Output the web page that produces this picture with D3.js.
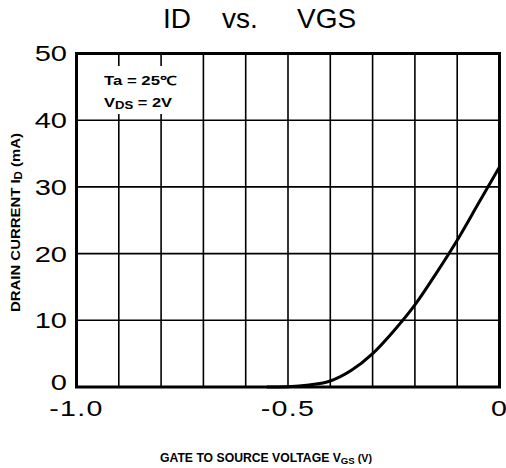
<!DOCTYPE html>
<html><head><meta charset="utf-8">
<script src="https://cdn.jsdelivr.net/npm/d3@7"></script>
<style>body{margin:0;background:#fff}svg{display:block}</style>
</head><body>
<svg id="c" width="506" height="468"></svg>
<script>
const vgs = [-0.55, -0.5, -0.45, -0.4, -0.35, -0.3, -0.25, -0.2, -0.15, -0.1, -0.05, 0];
const idmA = [0, 0.05, 0.3, 0.9, 2.5, 5.0, 8.4, 12.3, 17, 22, 27.5, 33];
const xGrid = [-1.0, -0.9, -0.8, -0.7, -0.6, -0.5, -0.4, -0.3, -0.2, -0.1, 0];
const xTickVals = [-1.0, -0.5, 0];
const xTickLabels = ["-1.0", "-0.5", "0"];
const yTickVals = [0, 10, 20, 30, 40, 50];
const yTickLabels = ["0", "10", "20", "30", "40", "50"];
const titleParts = ["ID", "vs.", "VGS"];

const svg = d3.select("#c");
const L = 76.5, R = 499.5, T = 53.5, B = 387;
const x = d3.scaleLinear().domain([-1, 0]).range([L, R]);
const y = d3.scaleLinear().domain([0, 50]).range([B, T]);
const font = "'Liberation Sans', Arial, sans-serif";

// grid
svg.append("g").selectAll("line").data(xGrid.slice(1, -1)).join("line")
  .attr("x1", d => x(d)).attr("x2", d => x(d)).attr("y1", T).attr("y2", B)
  .attr("stroke", "#000").attr("stroke-width", 1.6);
svg.append("g").selectAll("line").data(yTickVals.slice(1, -1)).join("line")
  .attr("x1", L).attr("x2", R).attr("y1", d => y(d)).attr("y2", d => y(d))
  .attr("stroke", "#000").attr("stroke-width", 1.6);

// annotation box (hides grid)
svg.append("rect").attr("x", 97).attr("y", 66).attr("width", 85).attr("height", 48).attr("fill", "#fff");
const ann = svg.append("g").attr("font-family", font).attr("font-weight", "bold").attr("font-size", 12.5);
ann.append("text").attr("x", 104).attr("y", 85).attr("textLength", 72).attr("lengthAdjust", "spacingAndGlyphs")
  .text("Ta = 25℃");
const t2 = ann.append("text").attr("x", 104).attr("y", 107).attr("textLength", 68).attr("lengthAdjust", "spacingAndGlyphs");
t2.append("tspan").text("V");
t2.append("tspan").attr("font-size", 10).attr("dy", 2).text("DS");
t2.append("tspan").attr("dy", -2).text(" = 2V");

// frame
svg.append("rect").attr("x", L).attr("y", T).attr("width", R - L).attr("height", B - T)
  .attr("fill", "none").attr("stroke", "#000").attr("stroke-width", 3);

// curve
const line = d3.line().x((d, i) => x(vgs[i])).y(d => y(d)).curve(d3.curveMonotoneX);
svg.append("path").attr("d", line(idmA)).attr("fill", "none").attr("stroke", "#000").attr("stroke-width", 3);

// y tick labels
svg.append("g").selectAll("g").data(yTickVals).join("g")
  .attr("transform", d => `translate(67,${y(d) - (d === 0 ? 5 : 0)}) scale(1.32,1)`)
  .append("text").attr("text-anchor", "end").attr("dy", "0.36em")
  .attr("font-family", font).attr("font-size", 22).text((d, i) => yTickLabels[i]);

// x tick labels
svg.append("g").selectAll("g").data(xTickVals).join("g")
  .attr("transform", d => `translate(${x(d)},416) scale(1.3,1)`)
  .append("text").attr("text-anchor", "middle")
  .attr("font-family", font).attr("font-size", 22).attr("letter-spacing", 1).text((d, i) => xTickLabels[i]);

// title
const titleX = [163, 222, 297];
svg.append("g").selectAll("text").data(titleParts).join("text")
  .attr("x", (d, i) => titleX[i]).attr("y", 28)
  .attr("font-family", font).attr("font-size", 28).text(d => d);

// x axis title
const xt = svg.append("text").attr("x", 160).attr("y", 462)
  .attr("font-family", font).attr("font-weight", "bold").attr("font-size", 12)
  .attr("textLength", 212).attr("lengthAdjust", "spacingAndGlyphs");
xt.append("tspan").text("GATE TO SOURCE VOLTAGE V");
xt.append("tspan").attr("font-size", 9.5).attr("dy", 2).text("GS");
xt.append("tspan").attr("dy", -2).attr("font-size", 10.5).text(" (V)");

// y axis title
const yt = svg.append("text").attr("transform", "translate(20,312) rotate(-90)")
  .attr("font-family", font).attr("font-weight", "bold").attr("font-size", 13)
  .attr("textLength", 179).attr("lengthAdjust", "spacingAndGlyphs");
yt.append("tspan").text("DRAIN CURRENT I");
yt.append("tspan").attr("font-size", 10).attr("dy", 2).text("D");
yt.append("tspan").attr("dy", -2).text(" (mA)");
</script>
</body></html>
